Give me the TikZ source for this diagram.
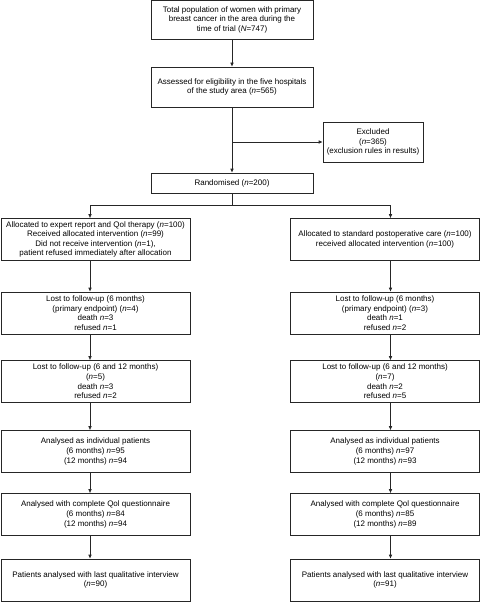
\documentclass[tikz,border=0pt]{standalone}
\usepackage{fontspec}
\setmainfont{Liberation Sans}
\usetikzlibrary{arrows.meta}

\tikzset{
  flowbox/.style={draw=black!85, line width=0.6pt, align=center,
    font=\fontsize{8}{9.6}\selectfont, inner sep=2pt},
  midbox/.style={flowbox, minimum width=162pt},
  colbox/.style={flowbox, minimum width=189pt, minimum height=42pt},
  arr/.style={draw=black!85, line width=0.6pt, -{Latex[length=4pt,width=3.5pt]}}
}

\begin{document}
\begin{tikzpicture}[x=1pt,y=-1pt]
    \useasboundingbox (0,0) rectangle (481,602);

    % centre column
    \node[midbox, minimum height=38.5pt] (total) at (232,19.75) {Total population of women with primary\\ breast cancer in the area during the\\ time of trial (\textit{N}=747)};
    \node[midbox, minimum height=40pt] (assessed) at (232,87) {Assessed for eligibility in the five hospitals\\ of the study area (\textit{n}=565)};
    \node[flowbox, minimum width=100pt, minimum height=40pt] (excluded) at (373,142) {Excluded\\ (\textit{n}=365)\\ (exclusion rules in results)};
    \node[midbox, minimum height=20pt] (random) at (232,183) {Randomised (\textit{n}=200)};
    \coordinate (split) at (232,205);

    % intervention arm
    \node[colbox] (l1) at (95.5,239.5) {Allocated to expert report and Qol therapy (\textit{n}=100)\\ Received allocated intervention (\textit{n}=99)\\ Did not receive intervention (\textit{n}=1),\\ patient refused immediately after allocation};
    \node[colbox] (l2) at (95.5,313) {Lost to follow-up (6 months)\\ (primary endpoint) (\textit{n}=4)\\ death \textit{n}=3\\ refused \textit{n}=1};
    \node[colbox] (l3) at (95.5,381.5) {Lost to follow-up (6 and 12 months)\\ (\textit{n}=5)\\ death \textit{n}=3\\ refused \textit{n}=2};
    \node[colbox] (l4) at (95.5,451.5) {Analysed as individual patients\\ (6 months) \textit{n}=95\\ (12 months) \textit{n}=94};
    \node[colbox] (l5) at (95.5,514.5) {Analysed with complete Qol questionnaire\\ (6 months) \textit{n}=84\\ (12 months) \textit{n}=94};
    \node[colbox] (l6) at (95.5,580) {Patients analysed with last qualitative interview\\ (\textit{n}=90)};

    % standard care arm
    \node[colbox] (r1) at (385,239.5) {Allocated to standard postoperative care (\textit{n}=100)\\ received allocated intervention (\textit{n}=100)};
    \node[colbox] (r2) at (385,313) {Lost to follow-up (6 months)\\ (primary endpoint) (\textit{n}=3)\\ death \textit{n}=1\\ refused \textit{n}=2};
    \node[colbox] (r3) at (385,381.5) {Lost to follow-up (6 and 12 months)\\ (\textit{n}=7)\\ death \textit{n}=2\\ refused \textit{n}=5};
    \node[colbox] (r4) at (385,451.5) {Analysed as individual patients\\ (6 months) \textit{n}=97\\ (12 months) \textit{n}=93};
    \node[colbox] (r5) at (385,514.5) {Analysed with complete Qol questionnaire\\ (6 months) \textit{n}=85\\ (12 months) \textit{n}=89};
    \node[colbox] (r6) at (385,580) {Patients analysed with last qualitative interview\\ (\textit{n}=91)};

    % connectors
    \draw[arr] (total) -- (assessed);
    \draw[arr] (assessed) -- (random);
    \draw[arr] (assessed.south |- excluded.west) -- (excluded.west);
    \draw[draw=black!85, line width=0.6pt] (random.south) -- (split);
    \draw[arr] (split) -| ([xshift=-5.5pt]l1.north);
    \draw[arr] (split) -| ([xshift=5.5pt]r1.north);

    \draw[arr] ([xshift=-5.5pt]l1.south) -- ([xshift=-5.5pt]l2.north);
    \draw[arr] ([xshift=-5.5pt]l2.south) -- ([xshift=-5.5pt]l3.north);
    \draw[arr] ([xshift=-5.5pt]l3.south) -- ([xshift=-5.5pt]l4.north);
    \draw[arr] ([xshift=-5.5pt]l4.south) -- ([xshift=-5.5pt]l5.north);
    \draw[arr] ([xshift=-5.5pt]l5.south) -- ([xshift=-5.5pt]l6.north);

    \draw[arr] ([xshift=5.5pt]r1.south) -- ([xshift=5.5pt]r2.north);
    \draw[arr] ([xshift=5.5pt]r2.south) -- ([xshift=5.5pt]r3.north);
    \draw[arr] ([xshift=5.5pt]r3.south) -- ([xshift=5.5pt]r4.north);
    \draw[arr] ([xshift=5.5pt]r4.south) -- ([xshift=5.5pt]r5.north);
    \draw[arr] ([xshift=5.5pt]r5.south) -- ([xshift=5.5pt]r6.north);
\end{tikzpicture}
\end{document}
